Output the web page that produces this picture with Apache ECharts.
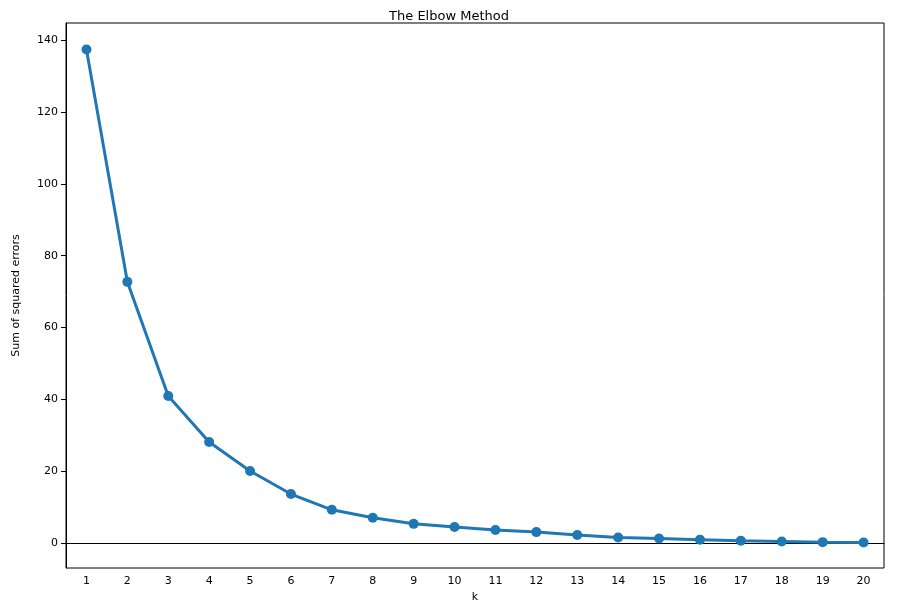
<!DOCTYPE html>
<html><head><meta charset="utf-8">
<script src="https://cdn.jsdelivr.net/npm/echarts@6/dist/echarts.min.js"></script>
<style>body{margin:0}#c{width:898px;height:616px}</style></head>
<body><div id="c"></div>
<script>
const categories = ['1','2','3','4','5','6','7','8','9','10','11','12','13','14','15','16','17','18','19','20'];
const sse = [137.4,72.7,40.9,28.1,20.0,13.6,9.2,7.0,5.3,4.4,3.6,3.0,2.2,1.5,1.2,0.9,0.6,0.4,0.2,0.1];
const yTicks = [0,20,40,60,80,100,120,140];
const chart = echarts.init(document.getElementById('c'));
const font = 'DejaVu Sans';
chart.setOption({
  animation:false,
  title:{text:'The Elbow Method',left:'center',top:5,textStyle:{fontFamily:font,fontSize:13,fontWeight:'normal',color:'#000'}},
  grid:{left:66,right:14,top:23,bottom:48,show:true,borderColor:'#000',borderWidth:1},
  xAxis:{type:'category',data:categories,boundaryGap:true,name:'k',nameLocation:'middle',nameGap:22,
    nameTextStyle:{fontFamily:font,fontSize:11,color:'#000'},
    axisLine:{lineStyle:{color:'#000'}},axisTick:{alignWithLabel:true,lineStyle:{color:'#000'}},
    axisLabel:{fontFamily:font,fontSize:11,color:'#000'}},
  yAxis:{type:'value',min:-7,max:144.8,name:'Sum of squared errors',nameLocation:'middle',nameGap:44,
    nameTextStyle:{fontFamily:font,fontSize:11,color:'#000'},
    axisLine:{show:true,lineStyle:{color:'#000'}},
    axisTick:{show:true,customValues:yTicks,lineStyle:{color:'#000'}},
    axisLabel:{customValues:yTicks,fontFamily:font,fontSize:11,color:'#000'},
    splitLine:{show:false}},
  series:[{type:'line',data:sse,symbol:'circle',symbolSize:10,
    lineStyle:{color:'#1f77b4',width:3},itemStyle:{color:'#1f77b4'}}]
});
</script></body></html>
